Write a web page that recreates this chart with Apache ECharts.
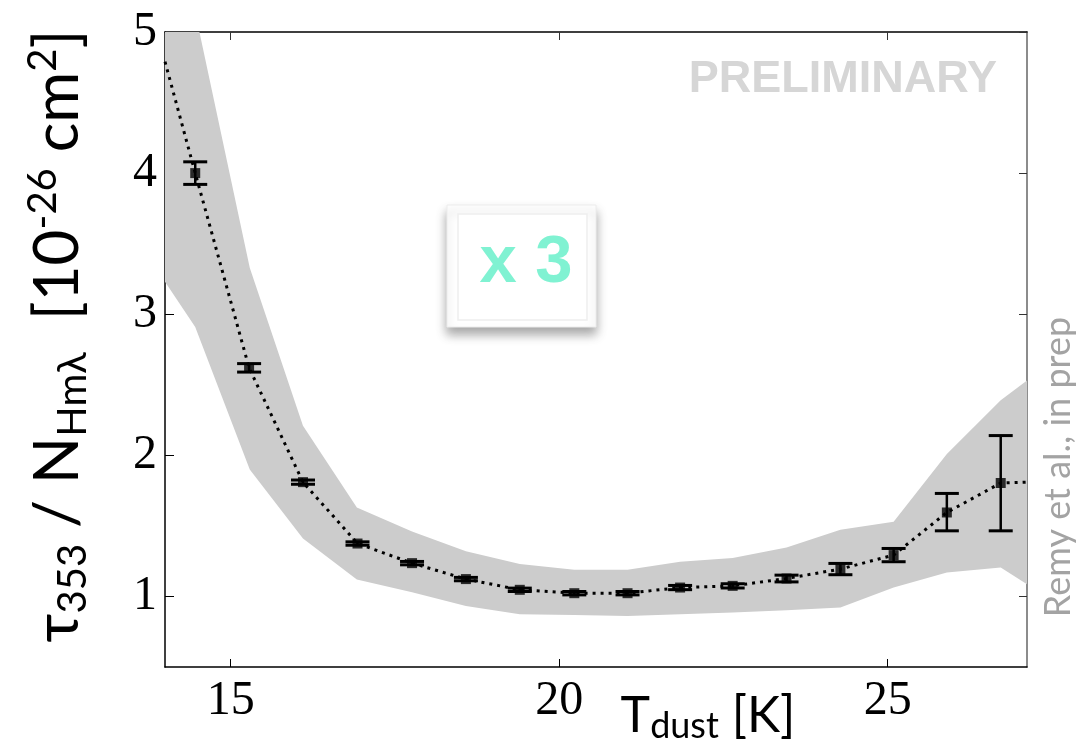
<!DOCTYPE html>
<html><head><meta charset="utf-8">
<script src="https://cdn.jsdelivr.net/npm/echarts@6/dist/echarts.min.js"></script>
<style>html,body{margin:0;padding:0;background:#fff}#c{width:1082px;height:746px}</style>
</head><body><div id="c"></div>
<script>
// ---- data ----
const tdust    = [14.46, 15.28, 16.10, 16.93, 17.76, 18.58, 19.40, 20.23, 21.04, 21.84, 22.64, 23.46, 24.28, 25.09, 25.90, 26.72];
const ratio    = [4.00, 2.62, 1.81, 1.375, 1.236, 1.123, 1.047, 1.023, 1.023, 1.063, 1.075, 1.127, 1.194, 1.293, 1.595, 1.804];
const errLow   = [3.92, 2.59, 1.795, 1.363, 1.224, 1.111, 1.035, 1.011, 1.011, 1.048, 1.060, 1.103, 1.154, 1.246, 1.465, 1.465];
const errHigh  = [4.08, 2.65, 1.825, 1.387, 1.248, 1.135, 1.059, 1.035, 1.035, 1.078, 1.090, 1.151, 1.234, 1.340, 1.730, 2.140];
const lineEdgeT = [14.0, 27.12];
const lineEdgeV = [4.79, 1.81];
const bandT    = [14.0, 14.46, 15.29, 16.10, 16.92, 17.76, 18.58, 19.40, 20.23, 21.04, 21.84, 22.64, 23.46, 24.28, 25.09, 25.90, 26.72, 27.12];
const bandLow  = [3.23, 2.91, 1.90, 1.41, 1.12, 1.03, 0.933, 0.874, 0.869, 0.862, 0.874, 0.886, 0.903, 0.921, 1.063, 1.17, 1.205, 1.087];
const bandHigh = [6.10, 5.14, 3.33, 2.21, 1.63, 1.46, 1.32, 1.23, 1.19, 1.19, 1.245, 1.272, 1.347, 1.473, 1.53, 2.01, 2.39, 2.53];
const xTicks = [15, 20, 25];
const yTicks = [1, 2, 3, 4, 5];

const chart = echarts.init(document.getElementById('c'), null, {renderer: 'canvas'});

const lineData = [[lineEdgeT[0], lineEdgeV[0]]]
  .concat(tdust.map((t, i) => [t, ratio[i]]))
  .concat([[lineEdgeT[1], lineEdgeV[1]]]);

const serifLabel = {fontFamily: 'Liberation Serif', fontSize: 48, color: '#000'};

chart.setOption({
  animation: false,
  backgroundColor: '#fff',
  grid: {left: 165, top: 32, right: 55, bottom: 79, containLabel: false},
  xAxis: [{
    type: 'value', min: 14, max: 27.12, position: 'bottom',
    axisLine: {show: true, onZero: false, lineStyle: {color: '#000', width: 1.5}},
    axisTick: {show: true, inside: true, length: 8, customValues: xTicks, lineStyle: {color: '#000', width: 1}},
    axisLabel: Object.assign({customValues: xTicks, margin: 10}, serifLabel),
    splitLine: {show: false}
  }, {
    type: 'value', min: 14, max: 27.12, position: 'top',
    axisLine: {show: true, onZero: false, lineStyle: {color: '#000', width: 1.5}},
    axisTick: {show: true, inside: true, length: 8, customValues: xTicks, lineStyle: {color: '#333', width: 1}},
    axisLabel: {show: false}, splitLine: {show: false}
  }],
  yAxis: [{
    type: 'value', min: 0.5, max: 5, position: 'left',
    axisLine: {show: true, onZero: false, lineStyle: {color: '#000', width: 1.5}},
    axisTick: {show: true, inside: true, length: 9, customValues: yTicks, lineStyle: {color: '#000', width: 1}},
    axisLabel: Object.assign({customValues: yTicks, margin: 8}, serifLabel),
    splitLine: {show: false}
  }, {
    type: 'value', min: 0.5, max: 5, position: 'right',
    axisLine: {show: true, onZero: false, lineStyle: {color: '#666', width: 1.5}},
    axisTick: {show: true, inside: true, length: 8, customValues: yTicks, lineStyle: {color: '#333', width: 1}},
    axisLabel: {show: false}, splitLine: {show: false}
  }],
  series: [{
    type: 'custom', name: 'band', clip: true, silent: true,
    data: [[bandT[0], bandLow[0]]],
    encode: {x: 0, y: 1},
    renderItem: function (params, api) {
      const pts = [];
      for (let i = 0; i < bandT.length; i++) pts.push(api.coord([bandT[i], bandHigh[i]]));
      for (let i = bandT.length - 1; i >= 0; i--) pts.push(api.coord([bandT[i], bandLow[i]]));
      return {type: 'polygon', shape: {points: pts}, style: {fill: '#cccccc', stroke: null}};
    }
  }, {
    type: 'line', name: 'trend', data: lineData, symbol: 'none', silent: true,
    lineStyle: {color: '#000', width: 3, type: [3, 5]}
  }, {
    type: 'custom', name: 'errors', clip: true, silent: true,
    data: tdust.map((t, i) => [t, errLow[i], errHigh[i]]),
    encode: {x: 0, y: [1, 2]},
    renderItem: function (params, api) {
      const x = api.value(0);
      const lo = api.coord([x, api.value(1)]);
      const hi = api.coord([x, api.value(2)]);
      const hw = 12;
      return {type: 'group', children: [
        {type: 'line', shape: {x1: lo[0], y1: lo[1], x2: hi[0], y2: hi[1]}, style: {stroke: '#000', lineWidth: 2.5}},
        {type: 'line', shape: {x1: lo[0] - hw, y1: lo[1], x2: lo[0] + hw, y2: lo[1]}, style: {stroke: '#000', lineWidth: 3}},
        {type: 'line', shape: {x1: hi[0] - hw, y1: hi[1], x2: hi[0] + hw, y2: hi[1]}, style: {stroke: '#000', lineWidth: 3}}
      ]};
    }
  }, {
    type: 'scatter', name: 'points', data: tdust.map((t, i) => [t, ratio[i]]),
    symbol: 'rect', symbolSize: 10, itemStyle: {color: '#000'}, silent: true
  }],
  graphic: [
    {
      type: 'text', x: 58, y: 336, rotation: Math.PI / 2, silent: true,
      style: {
        text: '{m|τ}{s|353}{m| / N}{s|Hmλ}{m|  [10}{p|-26}{m| cm}{p|2}{m|]}',
        align: 'center', verticalAlign: 'middle', fill: '#000',
        rich: {
          m: {fontFamily: 'Lato', fontSize: 62, lineHeight: 70, verticalAlign: 'middle', fill: '#000'},
          s: {fontFamily: 'Lato', fontSize: 40, lineHeight: 44, verticalAlign: 'bottom', fill: '#000'},
          p: {fontFamily: 'Lato', fontSize: 40, lineHeight: 44, verticalAlign: 'top', fill: '#000'}
        }
      }
    },
    {
      type: 'text', x: 708, y: 716, silent: true,
      style: {
        text: '{m|T}{s|dust}{m| [K]}',
        align: 'center', verticalAlign: 'middle',
        rich: {
          m: {fontFamily: 'Lato', fontSize: 50, lineHeight: 56, verticalAlign: 'middle', fill: '#000'},
          s: {fontFamily: 'Lato', fontSize: 36, lineHeight: 38, verticalAlign: 'bottom', fill: '#000'}
        }
      }
    },
    {
      type: 'text', x: 997, y: 80, silent: true,
      style: {text: 'PRELIMINARY', align: 'right', verticalAlign: 'middle',
        font: 'bold 45px "Liberation Sans"', fill: '#d6d6d6'}
    },
    {
      type: 'text', x: 1058, y: 467, rotation: Math.PI / 2, silent: true,
      style: {text: 'Remy et al., in prep', align: 'center', verticalAlign: 'middle',
        font: '36px Lato', fill: '#a3a3a3'}
    },
    {
      type: 'group', silent: true, children: [
        {type: 'rect', shape: {x: 447, y: 205, width: 149, height: 122},
          style: {fill: '#fff', stroke: '#ececec', lineWidth: 1, shadowBlur: 10, shadowOffsetY: 7, shadowColor: 'rgba(0,0,0,0.35)'}},
        {type: 'rect', shape: {x: 458, y: 214, width: 129, height: 106},
          style: {fill: '#fff', stroke: '#eeeeee', lineWidth: 1.5}},
        {type: 'text', x: 526, y: 264,
          style: {text: 'x 3', align: 'center', verticalAlign: 'middle',
            font: 'bold 67px "Liberation Sans"', fill: '#80f2d2'}}
      ]
    }
  ]
});
</script>
</body></html>
